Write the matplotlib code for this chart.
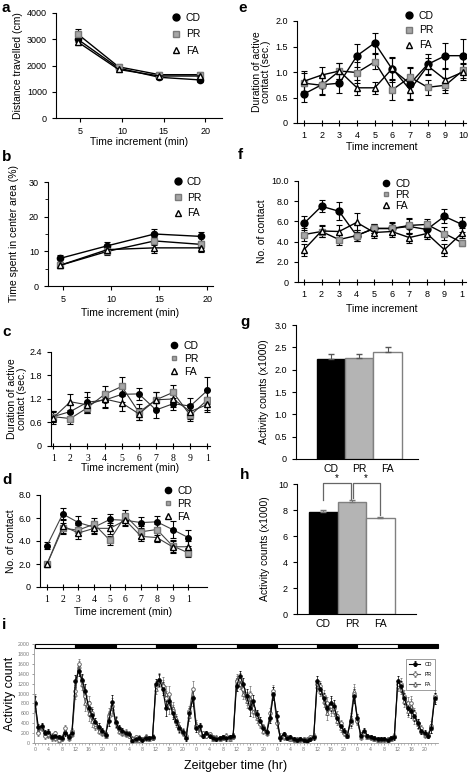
import numpy as np
import matplotlib.pyplot as plt
from matplotlib.lines import Line2D
from matplotlib.patches import Rectangle

plt.rcParams['font.family'] = ['Liberation Sans', 'DejaVu Sans']

W, H = 472, 776

# ---- data ----
groups = ['CD', 'PR', 'FA']

a_x = [4.7, 9.6, 14.5, 19.4]
a_cd = [3000, 1900, 1550, 1450]
a_pr = [3200, 1950, 1650, 1650]
a_fa = [2900, 1850, 1600, 1600]
a_cd_e = [100, 80, 80, 60]
a_pr_e = [200, 100, 100, 100]
a_fa_e = [100, 80, 80, 80]

b_x = [4.7, 9.6, 14.5, 19.4]
b_cd = [8.0, 11.6, 15.0, 14.3]
b_pr = [6.0, 10.0, 13.0, 12.0]
b_fa = [6.0, 10.5, 11.0, 11.0]
b_cd_e = [1.0, 1.2, 1.5, 1.3]
b_pr_e = [0.8, 1.0, 1.2, 1.0]
b_fa_e = [0.8, 1.0, 1.5, 1.2]

steps = [1, 2, 3, 4, 5, 6, 7, 8, 9, 10]
steps_lbl = ['1', '2', '3', '4', '5', '6', '7', '8', '9', '1']

c_cd = [0.75, 0.88, 1.12, 1.17, 1.32, 1.33, 0.92, 1.08, 1.02, 1.42]
c_pr = [0.75, 0.70, 0.98, 1.32, 1.52, 0.86, 1.18, 1.37, 0.78, 1.18]
c_fa = [0.72, 1.13, 1.05, 1.20, 1.10, 0.82, 1.18, 1.20, 0.88, 1.06]
c_cd_e = [0.15, 0.2, 0.25, 0.2, 0.2, 0.15, 0.2, 0.15, 0.2, 0.35]
c_pr_e = [0.15, 0.15, 0.15, 0.2, 0.25, 0.2, 0.2, 0.2, 0.15, 0.25]
c_fa_e = [0.15, 0.2, 0.2, 0.2, 0.2, 0.15, 0.2, 0.2, 0.2, 0.2]

d_cd = [3.6, 6.35, 5.6, 5.2, 5.87, 5.8, 5.6, 5.67, 5.0, 4.3]
d_pr = [2.0, 5.1, 4.95, 5.47, 4.07, 6.2, 4.8, 5.0, 3.58, 2.97]
d_fa = [2.0, 5.3, 4.7, 5.1, 5.1, 5.8, 4.4, 4.3, 3.5, 3.5]
d_cd_e = [0.3, 0.5, 0.6, 0.5, 0.5, 0.4, 0.5, 0.5, 0.7, 0.7]
d_pr_e = [0.2, 0.5, 0.4, 0.5, 0.4, 0.5, 0.5, 0.5, 0.5, 0.4]
d_fa_e = [0.2, 0.6, 0.5, 0.5, 0.5, 0.5, 0.4, 0.4, 0.5, 0.5]

e_cd = [0.57, 0.75, 0.78, 1.32, 1.57, 1.05, 0.77, 1.15, 1.32, 1.32]
e_pr = [0.78, 0.74, 1.02, 0.99, 1.20, 0.65, 0.90, 0.70, 0.74, 1.03]
e_fa = [0.82, 0.94, 1.02, 0.69, 0.69, 1.07, 0.65, 1.12, 0.85, 1.00]
e_cd_e = [0.15, 0.2, 0.2, 0.22, 0.2, 0.25, 0.3, 0.2, 0.25, 0.33]
e_pr_e = [0.2, 0.18, 0.15, 0.2, 0.15, 0.2, 0.2, 0.15, 0.15, 0.15]
e_fa_e = [0.2, 0.15, 0.15, 0.15, 0.12, 0.2, 0.2, 0.15, 0.2, 0.15]

f_cd = [5.8, 7.5, 7.0, 4.6, 5.3, 5.3, 5.5, 5.2, 6.5, 5.7]
f_pr = [4.7, 5.0, 4.2, 4.6, 5.3, 5.3, 5.6, 5.7, 4.8, 3.9]
f_fa = [3.2, 5.05, 5.0, 5.9, 4.9, 5.0, 4.4, 4.8, 3.2, 4.85]
f_cd_e = [0.7, 0.6, 0.9, 0.5, 0.4, 0.6, 0.7, 0.5, 0.7, 0.7]
f_pr_e = [0.6, 0.5, 0.5, 0.5, 0.4, 0.5, 0.7, 0.5, 0.6, 0.3]
f_fa_e = [0.6, 0.6, 0.6, 0.9, 0.5, 0.5, 0.5, 0.5, 0.6, 0.5]

g_vals = [2.24, 2.26, 2.40]
g_err = [0.10, 0.09, 0.11]

h_vals = [7.82, 8.64, 7.36]
h_err = [0.15, 0.12, 0.1]

# panel i: hourly activity, 5 days (ZT0..ZT23 per row)
i_cd = [
    [800, 330, 340, 210, 230, 130, 150, 120, 100, 200, 130, 200, 1250, 1450, 1280, 1050, 700, 560, 420, 330, 250, 170, 450, 820],
    [420, 300, 250, 200, 180, 50, 80, 100, 60, 110, 100, 120, 1200, 1280, 1100, 700, 850, 600, 450, 300, 220, 100, 600, 900],
    [300, 350, 150, 200, 150, 100, 80, 100, 120, 100, 130, 150, 1150, 1350, 1200, 950, 700, 850, 580, 450, 300, 220, 500, 1000],
    [550, 100, 180, 100, 120, 80, 60, 80, 60, 50, 80, 120, 1250, 1100, 900, 700, 800, 750, 500, 350, 250, 150, 450, 950],
    [500, 150, 250, 150, 130, 100, 80, 90, 80, 60, 100, 120, 1250, 1150, 900, 700, 650, 550, 400, 250, 200, 150, 300, 900],
]
i_pr = [
    [780, 200, 330, 150, 180, 100, 200, 60, 80, 300, 120, 250, 1050, 1600, 1250, 950, 800, 600, 380, 300, 220, 160, 550, 750],
    [400, 280, 220, 230, 150, 80, 130, 70, 90, 130, 100, 110, 1150, 1250, 1150, 900, 1000, 650, 420, 280, 200, 150, 650, 1100],
    [350, 200, 200, 150, 180, 120, 100, 100, 120, 150, 110, 130, 1250, 1300, 1100, 900, 1000, 700, 550, 380, 320, 230, 600, 1050],
    [400, 120, 150, 130, 100, 60, 80, 60, 80, 70, 120, 150, 1200, 1150, 950, 800, 750, 700, 550, 400, 200, 180, 400, 1000],
    [450, 180, 200, 140, 110, 100, 80, 70, 70, 80, 110, 140, 1200, 1200, 950, 800, 800, 600, 400, 300, 180, 160, 350, 950],
]
i_fa = [
    [850, 250, 300, 180, 160, 150, 100, 50, 120, 250, 100, 180, 1000, 1550, 1200, 800, 600, 450, 350, 250, 200, 150, 600, 700],
    [450, 250, 200, 180, 200, 100, 60, 120, 80, 100, 80, 130, 1100, 1300, 1200, 1000, 750, 700, 500, 350, 250, 130, 550, 950],
    [380, 250, 180, 160, 160, 80, 120, 90, 100, 130, 90, 140, 1300, 1200, 1000, 850, 900, 650, 500, 400, 250, 200, 550, 1000],
    [450, 150, 120, 110, 90, 90, 70, 90, 70, 80, 100, 130, 1150, 1050, 850, 600, 700, 650, 450, 300, 220, 150, 500, 1050],
    [480, 120, 220, 130, 120, 90, 60, 80, 90, 70, 80, 150, 1150, 1100, 850, 650, 750, 500, 380, 250, 160, 180, 300, 900],
]
i_sem = [
    [150, 60, 60, 60, 50, 50, 50, 40, 40, 60, 50, 50, 120, 100, 120, 150, 150, 120, 90, 70, 60, 50, 100, 150],
    [100, 60, 50, 50, 50, 40, 40, 40, 40, 50, 40, 50, 100, 120, 130, 150, 160, 120, 90, 70, 60, 50, 100, 150],
    [80, 60, 50, 50, 50, 40, 40, 40, 40, 50, 40, 50, 100, 110, 120, 140, 150, 120, 90, 70, 60, 50, 100, 130],
    [90, 50, 50, 40, 40, 40, 40, 40, 40, 40, 40, 50, 100, 110, 120, 130, 150, 110, 90, 70, 60, 50, 100, 140],
    [90, 50, 50, 40, 40, 40, 40, 40, 40, 40, 40, 50, 100, 110, 120, 130, 140, 110, 90, 70, 60, 50, 90, 120],
]

fig = plt.figure(figsize=(W / 100, H / 100), dpi=100)


def px_axes(l, t, r, b):
    return fig.add_axes([l / W, 1 - b / H, (r - l) / W, (b - t) / H])


def style(ax):
    ax.spines['top'].set_visible(False)
    ax.spines['right'].set_visible(False)
    ax.tick_params(labelsize=6.5, length=3, width=0.8)


def lines(ax, x, cd, pr, fa, cde, pre, fae, lc='black', lw=1.0, ms=4.5):
    kw = dict(color=lc, lw=lw, elinewidth=0.8, ecolor='black', capsize=2, capthick=0.8, ms=ms)
    ax.errorbar(x, cd, yerr=cde, marker='o', mfc='black', mec='black', **kw)
    ax.errorbar(x, pr, yerr=pre, marker='s', mfc='#a6a6a6', mec='#7a7a7a', **kw)
    ax.errorbar(x, fa, yerr=fae, marker='^', mfc='white', mec='black', **kw)


def legend(ax, x, y, spacing=0.35, ms=5):
    hs = [Line2D([], [], ls='none', marker='o', mfc='black', mec='black', ms=ms),
          Line2D([], [], ls='none', marker='s', mfc='#a6a6a6', mec='#7a7a7a', ms=ms - 1),
          Line2D([], [], ls='none', marker='^', mfc='white', mec='black', ms=ms)]
    ax.legend(hs, groups, loc='upper left', bbox_to_anchor=(x, y), frameon=False,
              fontsize=7.5, handlelength=0.8, handletextpad=0.5, labelspacing=spacing,
              borderpad=0, borderaxespad=0)


def panel_letter(x, y, s):
    fig.text(x / W, 1 - y / H, s, fontsize=11, fontweight='bold', va='top', ha='left')


# ---- a ----
ax = px_axes(56, 13, 222, 118)
style(ax)
lines(ax, a_x, a_cd, a_pr, a_fa, a_cd_e, a_pr_e, a_fa_e)
ax.set_xlim(2.1, 22.0)
ax.set_ylim(0, 4000)
ax.set_xticks([5, 10, 15, 20])
ax.set_yticks([0, 1000, 2000, 3000, 4000])
ax.set_xlabel('Time increment (min)', fontsize=7.5, labelpad=1)
ax.set_ylabel('Distance travelled (cm)', fontsize=7.5, labelpad=3)
legend(ax, 0.7, 1.0, spacing=0.6)
panel_letter(2, 1, 'a')

# ---- b ----
ax = px_axes(48, 182, 213, 286)
style(ax)
lines(ax, b_x, b_cd, b_pr, b_fa, b_cd_e, b_pr_e, b_fa_e)
ax.set_xlim(3.4, 20.6)
ax.set_ylim(0, 30)
ax.set_xticks([5, 10, 15, 20])
ax.set_yticks([0, 10, 20, 30])
ax.set_yticks([5, 15, 25], minor=True)
ax.tick_params(which='minor', length=2)
ax.set_xlabel('Time increment (min)', fontsize=7.5, labelpad=3)
ax.set_ylabel('Time spent in center area (%)', fontsize=7.5, labelpad=7)
legend(ax, 0.76, 1.05, spacing=0.55)
panel_letter(2, 150, 'b')

# ---- c ----
ax = px_axes(51, 352, 210, 446)
style(ax)
lines(ax, steps, c_cd, c_pr, c_fa, c_cd_e, c_pr_e, c_fa_e, lc='#333333', lw=0.8, ms=4)
ax.set_xlim(0.87, 10.15)
ax.set_ylim(0, 2.4)
ax.set_xticks(steps)
ax.set_xticklabels(steps_lbl, family='Liberation Serif', fontsize=7)
ax.set_yticks([0, 0.6, 1.2, 1.8, 2.4])
ax.set_yticklabels(['0', '0.6', '1.2', '1.8', '2.4'])
ax.tick_params(axis='x', direction='inout', length=5)
ax.set_xlabel('Time increment (min)', fontsize=7.5, labelpad=0)
ax.set_ylabel('Duration of active\ncontact (sec.)', fontsize=7.5, labelpad=2, linespacing=0.9)
legend(ax, 0.75, 1.12, spacing=0.3, ms=4.5)
panel_letter(2, 325, 'c')

# ---- d ----
ax = px_axes(40, 495, 207, 587)
style(ax)
lines(ax, steps, d_cd, d_pr, d_fa, d_cd_e, d_pr_e, d_fa_e, lc='#444444', lw=0.8, ms=4)
ax.set_xlim(0.55, 11.2)
ax.set_ylim(0, 8)
ax.set_xticks(steps)
ax.set_xticklabels(steps_lbl, family='Liberation Serif', fontsize=7)
ax.set_yticks([0, 2, 4, 6, 8])
ax.set_yticklabels(['0', '2.0', '4.0', '6.0', '8.0'])
ax.tick_params(axis='x', direction='inout', length=5)
ax.set_xlabel('Time increment (min)', fontsize=7.5, labelpad=2)
ax.set_ylabel('No. of contact', fontsize=7.5, labelpad=2)
legend(ax, 0.74, 1.1, spacing=0.3, ms=4.5)
panel_letter(2, 473, 'd')

# ---- e ----
ax = px_axes(297, 21, 466, 123)
style(ax)
lines(ax, steps, e_cd, e_pr, e_fa, e_cd_e, e_pr_e, e_fa_e, ms=5)
ax.set_xlim(0.6, 10.17)
ax.set_ylim(0, 2.0)
ax.set_xticks(steps)
ax.set_yticks([0, 0.5, 1.0, 1.5, 2.0])
ax.set_yticklabels(['0', '0.5', '1.0', '1.5', '2.0'])
ax.tick_params(axis='x', direction='inout', length=5)
ax.set_xlabel('Time increment', fontsize=7.5, labelpad=1)
ax.set_ylabel('Duration of active\ncontact (sec.)', fontsize=7.5, labelpad=3, linespacing=0.95)
legend(ax, 0.64, 1.1, spacing=0.45)
panel_letter(238, 1, 'e')

# ---- f ----
ax = px_axes(298, 181, 466, 282)
style(ax)
lines(ax, steps, f_cd, f_pr, f_fa, f_cd_e, f_pr_e, f_fa_e, ms=5)
ax.set_xlim(0.66, 10.23)
ax.set_ylim(0, 10)
ax.set_xticks(steps)
ax.set_xticklabels(steps_lbl)
ax.set_yticks([0, 2, 4, 6, 8, 10])
ax.set_yticklabels(['0', '2.0', '4.0', '6.0', '8.0', '10.0'])
ax.tick_params(axis='x', direction='inout', length=5)
ax.set_xlabel('Time increment', fontsize=7.5, labelpad=3)
ax.set_ylabel('No. of contact', fontsize=7.5, labelpad=3)
legend(ax, 0.5, 1.02, spacing=0.1, ms=4.5)
panel_letter(238, 148, 'f')

# ---- g ----
bar_fc = ['black', '#b4b4b4', 'white']
bar_ec = ['black', '#808080', '#808080']
ax = px_axes(296, 325, 418, 459)
style(ax)
ax.bar(range(3), g_vals, width=1.0, color=bar_fc, edgecolor=bar_ec, lw=1)
ax.errorbar(range(3), g_vals, yerr=[[0, 0, 0], g_err], fmt='none', ecolor='#555555',
            elinewidth=0.8, capsize=2)
ax.set_xlim(-1.23, 3.07)
ax.set_ylim(0, 3.0)
ax.set_xticks(range(3))
ax.set_xticklabels(groups, fontsize=7.5)
ax.tick_params(axis='x', length=0)
ax.set_yticks(np.arange(0, 3.01, 0.5))
ax.set_yticklabels(['0', '0.5', '1.0', '1.5', '2.0', '2.5', '3.0'])
ax.set_ylabel('Activity counts (x1000)', fontsize=7.5, labelpad=4)
panel_letter(240, 315, 'g')

# ---- h ----
ax = px_axes(297, 484, 416, 614)
style(ax)
ax.bar(range(3), h_vals, width=1.0, color=bar_fc, edgecolor=bar_ec, lw=1)
ax.errorbar(range(3), h_vals, yerr=[[0, 0, 0], h_err], fmt='none', ecolor='#777777',
            elinewidth=0.8, capsize=2)
ax.set_xlim(-0.93, 3.25)
ax.set_ylim(0, 10)
ax.set_xticks(range(3))
ax.set_xticklabels(groups, fontsize=7.5)
ax.tick_params(axis='x', length=0)
ax.set_yticks([0, 2, 4, 6, 8, 10])
ax.set_ylabel('Activity counts (x1000)', fontsize=7.5, labelpad=6)
brk = dict(color='#666666', lw=0.9, clip_on=False)
ax.plot([0, 0, 0.97, 0.97], [8.8, 10.05, 10.05, 8.85], **brk)
ax.plot([1.05, 1.05, 2.0, 2.0], [8.9, 10.05, 10.05, 7.6], **brk)
ax.text(0.48, 10.1, '*', ha='center', va='bottom', fontsize=7)
ax.text(1.5, 10.1, '*', ha='center', va='bottom', fontsize=7)
panel_letter(240, 468, 'h')

# ---- i ----
hours = np.arange(120)
cd_all = np.concatenate(i_cd)
pr_all = np.concatenate(i_pr)
fa_all = np.concatenate(i_fa)
sem_all = np.concatenate(i_sem)
ax = px_axes(34, 644, 438, 743)
ax.spines['top'].set_visible(False)
ax.spines['right'].set_visible(False)
for s in ['left', 'bottom']:
    ax.spines[s].set_color('#999999')
    ax.spines[s].set_linewidth(0.6)
kw = dict(lw=0.8, elinewidth=0.5, capsize=1, capthick=0.5, ms=2.6, mew=0.6)
ax.errorbar(hours, fa_all, yerr=sem_all, color='#555555', ecolor='#777777', marker='^',
            mfc='white', mec='#555555', label='FA', **kw)
ax.errorbar(hours, pr_all, yerr=sem_all, color='#555555', ecolor='#777777', marker='o',
            mfc='white', mec='#555555', label='PR', **kw)
ax.errorbar(hours, cd_all, yerr=sem_all, color='black', ecolor='black', marker='o',
            mfc='black', mec='black', label='CD', **kw)
ax.set_xlim(-0.3, 120)
ax.set_ylim(0, 2000)
ax.set_yticks(np.arange(0, 2001, 200))
ax.set_xticks(np.arange(0, 120, 4))
ax.set_xticklabels([str(h % 24) for h in range(0, 120, 4)])
ax.set_xticks(np.arange(0, 120, 1), minor=True)
ax.tick_params(labelsize=3.8, length=1.5, width=0.5, colors='#777777', pad=1.5)
ax.tick_params(which='minor', length=1.5, width=0.4, colors='#999999')
# light/dark bar
for day in range(5):
    for k, fc in enumerate(['white', 'black']):
        ax.add_patch(Rectangle((day * 24 + k * 12, 1910), 12, 90, facecolor=fc,
                               edgecolor='black', lw=0.8, clip_on=False))
hd, lb = ax.get_legend_handles_labels()
leg = ax.legend(hd[::-1], lb[::-1], loc='upper right', bbox_to_anchor=(1.0, 0.88),
                fontsize=3.8, frameon=True, fancybox=False, edgecolor='#555555',
                handlelength=2.2, borderpad=0.6, labelspacing=1.0)
leg.get_frame().set_linewidth(0.5)
ax.set_ylabel('Activity count', fontsize=9, labelpad=1)
ax.set_xlabel('Zeitgeber time (hr)', fontsize=9, labelpad=6)
panel_letter(2, 618, 'i')

fig.savefig('out.png', dpi=100)
